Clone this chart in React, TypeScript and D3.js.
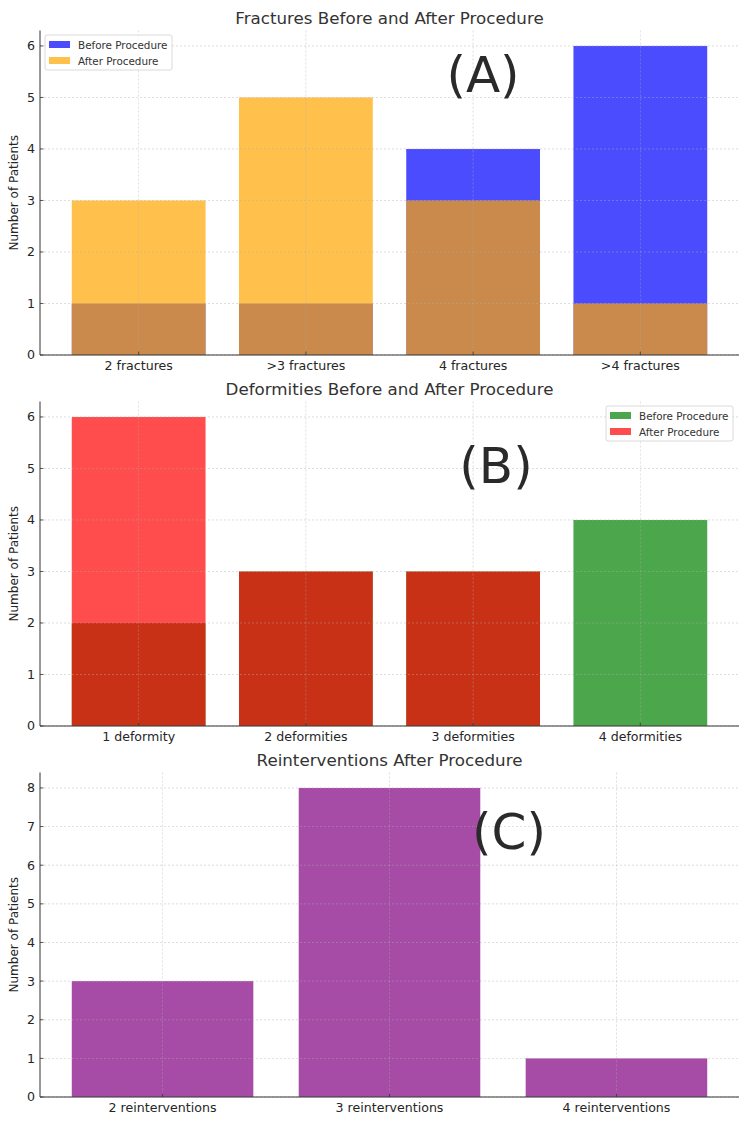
import * as d3 from "d3"

const fractureCats = ["2 fractures", ">3 fractures", "4 fractures", ">4 fractures"]
const fractureBefore = [1, 1, 4, 6]
const fractureAfter = [3, 5, 3, 1]

const deformityCats = ["1 deformity", "2 deformities", "3 deformities", "4 deformities"]
const deformityBefore = [2, 3, 3, 4]
const deformityAfter = [6, 3, 3, 0]

const reinterventionCats = ["2 reinterventions", "3 reinterventions", "4 reinterventions"]
const reinterventionCounts = [3, 8, 1]

const panels = [
  {
    title: "Fractures Before and After Procedure",
    cats: fractureCats,
    series: [
      { name: "Before Procedure", values: fractureBefore, color: "blue" },
      { name: "After Procedure", values: fractureAfter, color: "orange" },
    ],
    yMax: 6.3,
    yTicks: [0, 1, 2, 3, 4, 5, 6],
    tag: "(A)",
    tagX: 483,
    tagY: 92,
    legend: "left",
  },
  {
    title: "Deformities Before and After Procedure",
    cats: deformityCats,
    series: [
      { name: "Before Procedure", values: deformityBefore, color: "green" },
      { name: "After Procedure", values: deformityAfter, color: "red" },
    ],
    yMax: 6.3,
    yTicks: [0, 1, 2, 3, 4, 5, 6],
    tag: "(B)",
    tagX: 496,
    tagY: 483,
    legend: "right",
  },
  {
    title: "Reinterventions After Procedure",
    cats: reinterventionCats,
    series: [{ name: "", values: reinterventionCounts, color: "purple" }],
    yMax: 8.4,
    yTicks: [0, 1, 2, 3, 4, 5, 6, 7, 8],
    tag: "(C)",
    tagX: 509,
    tagY: 849,
    legend: null,
  },
]

const font = "DejaVu Sans, sans-serif"
const left = 40
const right = 739
const top0 = 30.5
const plotH = 324.5
const gap = 371

const Panel = ({ p, i }) => {
  const top = top0 + i * gap
  const bottom = top + plotH
  const n = p.cats.length
  const x = d3
    .scaleBand()
    .domain(p.cats)
    .range([left, right])
    .paddingInner(0.2)
    .paddingOuter(0.05 * (n - 0.2))
  const y = d3.scaleLinear().domain([0, p.yMax]).range([bottom, top])
  const grid = "#b0b0b0"

  const legendX = p.legend === "left" ? 45 : 606
  const legendY = top + 4.5

  return (
    <g>
      <text x={(left + right) / 2} y={top - 6.5} textAnchor="middle" fontSize={16.7} fill="#333">
        {p.title}
      </text>
      {p.series.map((s) =>
        s.values.map((v, j) => (
          <rect
            key={s.name + j}
            x={x(p.cats[j])}
            y={y(v)}
            width={x.bandwidth()}
            height={bottom - y(v)}
            fill={s.color}
            fillOpacity={0.7}
          />
        ))
      )}
      {p.yTicks.map((t) => (
        <g key={"y" + t}>
          <line x1={left} x2={right} y1={y(t)} y2={y(t)} stroke={grid} strokeWidth={0.6} strokeDasharray="2,2" opacity={0.7} />
          <line x1={left} x2={left + 3.5} y1={y(t)} y2={y(t)} stroke="#333" strokeWidth={0.8} />
          <text x={left - 5} y={y(t)} dy="0.35em" textAnchor="end" fontSize={12.6} fill="#262626">
            {t}
          </text>
        </g>
      ))}
      {p.cats.map((c) => {
        const cx = x(c) + x.bandwidth() / 2
        return (
          <g key={"x" + c}>
            <line x1={cx} x2={cx} y1={top} y2={bottom} stroke={grid} strokeWidth={0.6} strokeDasharray="2,2" opacity={0.7} />
            <line x1={cx} x2={cx} y1={bottom} y2={bottom - 3.5} stroke="#333" strokeWidth={0.8} />
            <text x={cx} y={bottom + 14.5} textAnchor="middle" fontSize={12.6} fill="#262626">
              {c}
            </text>
          </g>
        )
      })}
      <line x1={left} x2={left} y1={top} y2={bottom} stroke="#333" strokeWidth={1} />
      <line x1={left} x2={right} y1={bottom} y2={bottom} stroke="#333" strokeWidth={1} />
      <text
        transform={`translate(${left - 22},${(top + bottom) / 2}) rotate(-90)`}
        textAnchor="middle"
        fontSize={12}
        fill="#262626"
      >
        Number of Patients
      </text>
      <text x={p.tagX} y={p.tagY} textAnchor="middle" fontSize={50} fill="#2a2a2a">
        {p.tag}
      </text>
      {p.legend && (
        <g transform={`translate(${legendX},${legendY})`}>
          <rect x={0} y={0} width={127} height={35} rx={2} fill="white" fillOpacity={0.8} stroke="#d0d0d0" strokeWidth={0.8} />
          {p.series.map((s, k) => (
            <g key={s.name} transform={`translate(4,${6 + k * 16})`}>
              <rect x={0} y={0} width={21} height={7} fill={s.color} fillOpacity={0.7} />
              <text x={29} y={7.5} fontSize={10.4} fill="#333">
                {s.name}
              </text>
            </g>
          ))}
        </g>
      )}
    </g>
  )
}

export default function App() {
  return (
    <svg
      width={750}
      height={1125}
      style={{ position: "absolute", left: 0, top: 0, background: "white" }}
      fontFamily={font}
    >
      <rect width={750} height={1125} fill="white" />
      {panels.map((p, i) => (
        <Panel key={i} p={p} i={i} />
      ))}
    </svg>
  )
}
